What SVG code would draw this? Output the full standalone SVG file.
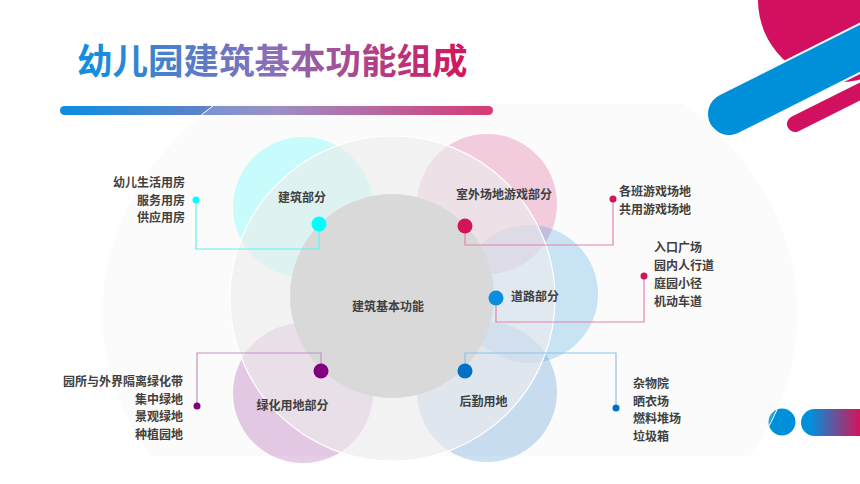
<svg xmlns="http://www.w3.org/2000/svg" width="860" height="484" viewBox="0 0 860 484">
<defs>
<linearGradient id="gTitle" gradientUnits="userSpaceOnUse" x1="77" y1="0" x2="469" y2="0">
<stop offset="0" stop-color="#0d8fe0"/><stop offset="0.5" stop-color="#8a6fb6"/><stop offset="1" stop-color="#d4145a"/>
</linearGradient>
<linearGradient id="gBar" gradientUnits="userSpaceOnUse" x1="60" y1="0" x2="493" y2="0">
<stop offset="0" stop-color="#0a8ee0"/><stop offset="0.5" stop-color="#8a7cbe"/><stop offset="1" stop-color="#d4145a"/>
</linearGradient>
<linearGradient id="gPill" gradientUnits="userSpaceOnUse" x1="810" y1="0" x2="860" y2="0">
<stop offset="0" stop-color="#0090da"/><stop offset="1" stop-color="#d4145a"/>
</linearGradient>
<clipPath id="clipBg"><rect x="0" y="104" width="860" height="352"/></clipPath>
</defs>
<style>
.lbl{font-family:"Noto Sans CJK SC","Liberation Sans",sans-serif;font-size:12px;font-weight:bold;fill:#404040}
.r{text-anchor:end}
.m{text-anchor:middle}
.blob{fill-opacity:0.2}
.ln{fill:none;stroke-width:1.2}
</style>
<rect width="860" height="484" fill="#ffffff"/>
<g id="decor">
<rect x="60" y="106" width="433" height="9" rx="4.5" fill="url(#gBar)"/>
<circle cx="840" cy="0" r="82" fill="#d2105f"/>
<line x1="729" y1="114" x2="910" y2="23" stroke="#ffffff" stroke-width="46" stroke-linecap="round"/>
<line x1="729" y1="114" x2="910" y2="23" stroke="#0090da" stroke-width="42" stroke-linecap="round"/>
<line x1="795" y1="124" x2="910" y2="66.5" stroke="#d2105f" stroke-width="16" stroke-linecap="round"/>
<circle cx="782" cy="422" r="13.5" fill="#0090da"/>
<rect x="801" y="409" width="80" height="27" rx="13.5" fill="url(#gPill)"/>
</g>
<g id="background">
<ellipse cx="450" cy="313" rx="348" ry="283" fill="#e8e8e8" fill-opacity="0.18" stroke="#ffffff" stroke-width="1" clip-path="url(#clipBg)"/>
</g>
<g id="title">
<text x="77" y="73.5" font-family="Noto Sans CJK SC, Liberation Sans, sans-serif" font-size="35.5" font-weight="bold" fill="url(#gTitle)">幼儿园建筑基本功能组成</text>
</g>
<g id="blobs">
<circle class="blob" cx="303" cy="207" r="70" fill="#00ffff"/>
<circle class="blob" cx="487" cy="204" r="70" fill="#d0106a"/>
<circle class="blob" cx="529" cy="294" r="69" fill="#008cdc"/>
<circle class="blob" cx="303" cy="393" r="70" fill="#800088"/>
<circle class="blob" cx="487" cy="392" r="70" fill="#0064c8"/>
</g>
<g id="ring">
<circle cx="392.5" cy="298.5" r="162.5" fill="#ededed" fill-opacity="0.64" stroke="#ffffff" stroke-width="1.2"/>
</g>
<g id="core">
<circle cx="392" cy="296" r="102" fill="#d9d9d9"/>
<text class="lbl m" x="388" y="310.5">建筑基本功能</text>
</g>
<g id="connectors">
<polyline class="ln" stroke="#5ff2f2" points="319,224 319,249 196,249 196,200"/>
<polyline class="ln" stroke="#e682ab" points="465,226 465,245 613,245 613,199"/>
<polyline class="ln" stroke="#e682ab" points="496,298 496,322 644,322 644,276"/>
<polyline class="ln" stroke="#c490c4" points="321,371 321,353 197,353 197,406"/>
<polyline class="ln" stroke="#8ec2ea" points="465,371 465,353 616,353 616,408"/>
</g>
<g id="node-jianzhu">
<circle cx="319" cy="224" r="7.5" fill="#00ffff"/>
<text class="lbl m" x="302" y="201.5">建筑部分</text>
<circle cx="196" cy="200" r="3.5" fill="#00ffff"/>
<text class="lbl r" x="185" y="186.5">幼儿生活用房</text>
<text class="lbl r" x="185" y="204.5">服务用房</text>
<text class="lbl r" x="185" y="221.5">供应用房</text>
</g>
<g id="node-shiwai">
<circle cx="465" cy="226" r="7.5" fill="#d4145a"/>
<text class="lbl m" x="504" y="198.5">室外场地游戏部分</text>
<circle cx="613" cy="199" r="3.5" fill="#d4145a"/>
<text class="lbl" x="619" y="195.5">各班游戏场地</text>
<text class="lbl" x="619" y="213.5">共用游戏场地</text>
</g>
<g id="node-daolu">
<circle cx="496" cy="298" r="7.5" fill="#0a8ee0"/>
<text class="lbl" x="511" y="300.5">道路部分</text>
<circle cx="644" cy="276" r="3.5" fill="#d4145a"/>
<text class="lbl" x="654" y="252">入口广场</text>
<text class="lbl" x="654" y="270">园内人行道</text>
<text class="lbl" x="654" y="288">庭园小径</text>
<text class="lbl" x="654" y="305.5">机动车道</text>
</g>
<g id="node-lvhua">
<circle cx="321" cy="371" r="7.5" fill="#800080"/>
<text class="lbl m" x="292.5" y="409.5">绿化用地部分</text>
<circle cx="197" cy="406" r="3.5" fill="#800080"/>
<text class="lbl r" x="183" y="385.5">园所与外界隔离绿化带</text>
<text class="lbl r" x="183" y="403.5">集中绿地</text>
<text class="lbl r" x="183" y="421">景观绿地</text>
<text class="lbl r" x="183" y="438.5">种植园地</text>
</g>
<g id="node-houqin">
<circle cx="465" cy="371" r="7.5" fill="#0070c8"/>
<text class="lbl m" x="483.5" y="405.5">后勤用地</text>
<circle cx="616" cy="408" r="3.5" fill="#0070c8"/>
<text class="lbl" x="633" y="388">杂物院</text>
<text class="lbl" x="633" y="405.5">晒衣场</text>
<text class="lbl" x="633" y="423">燃料堆场</text>
<text class="lbl" x="633" y="440.5">垃圾箱</text>
</g>
</svg>
